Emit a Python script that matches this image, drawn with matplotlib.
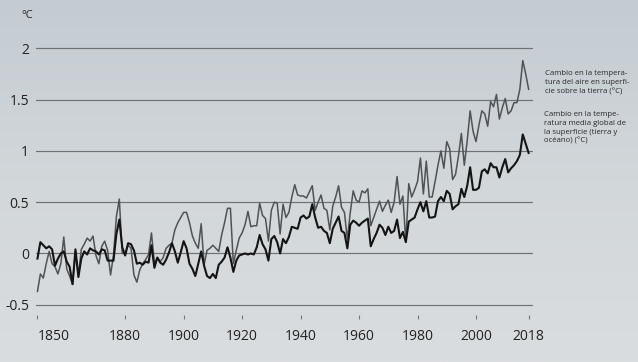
import numpy as np
import matplotlib.pyplot as plt
from matplotlib.colors import LinearSegmentedColormap

# Años y series anuales (°C)
years = np.arange(1850, 2019)

land = [
    -0.37, -0.2, -0.24, -0.1, 0.02, -0.1, -0.13, -0.2, -0.1, 0.16,
    -0.15, -0.22, -0.3, 0.02, -0.22, 0.04, 0.09, 0.15, 0.12, 0.17,
    -0.02, -0.1, 0.07, 0.12, 0.03, -0.21, -0.02, 0.36, 0.53, 0.0,
    0.0, 0.08, 0.05, -0.21, -0.28, -0.16, -0.1, -0.06, -0.01, 0.2,
    -0.1, -0.04, -0.08, -0.04, 0.05, 0.08, 0.1, 0.23, 0.3, 0.35,
    0.4, 0.4, 0.3, 0.17, 0.1, 0.05, 0.29, -0.11, 0.03, 0.05,
    0.08, 0.05, 0.02, 0.18, 0.3, 0.44, 0.44, -0.1, 0.03, 0.15,
    0.2, 0.28, 0.41, 0.26, 0.27, 0.27, 0.49, 0.37, 0.34, 0.12,
    0.42, 0.5, 0.49, 0.19, 0.48, 0.35, 0.4, 0.55, 0.67, 0.57,
    0.56, 0.56, 0.54, 0.6, 0.66, 0.42, 0.5, 0.57, 0.44, 0.42,
    0.23, 0.46, 0.55, 0.66, 0.45, 0.4, 0.14, 0.4, 0.61, 0.52,
    0.5, 0.61, 0.59, 0.63, 0.27, 0.35, 0.43, 0.51, 0.41, 0.47,
    0.52, 0.4, 0.5, 0.75, 0.48, 0.56, 0.11, 0.68, 0.55, 0.62,
    0.7, 0.93, 0.58, 0.9, 0.55, 0.55, 0.7, 0.86, 1.0, 0.83,
    1.09, 1.02, 0.72, 0.77, 0.95, 1.17, 0.86, 1.1, 1.39, 1.19,
    1.09, 1.25, 1.39, 1.36, 1.24, 1.48, 1.43, 1.55, 1.31, 1.42,
    1.51, 1.36, 1.39, 1.47, 1.47, 1.6, 1.88, 1.75, 1.6,
]

global_mean = [
    -0.05, 0.11, 0.08, 0.05, 0.07, 0.04, -0.12, -0.05, 0.0, 0.02,
    -0.08, -0.13, -0.3, 0.04, -0.23, -0.05, 0.02, -0.01, 0.05, 0.03,
    0.02, -0.01, 0.04, 0.03, -0.07, -0.07, -0.07, 0.19, 0.33, 0.06,
    -0.02, 0.1, 0.09, 0.03, -0.1, -0.09, -0.11, -0.08, -0.09, 0.08,
    -0.14, -0.04, -0.09, -0.11, -0.06, 0.01, 0.1, 0.02, -0.09, 0.01,
    0.12, 0.05, -0.1, -0.15, -0.22, -0.1, 0.02, -0.12, -0.22, -0.24,
    -0.2, -0.24, -0.11, -0.08, -0.04, 0.06, -0.04, -0.18, -0.07, -0.02,
    -0.01, 0.0, -0.01, 0.0, -0.01, 0.06, 0.18, 0.09, 0.04, -0.07,
    0.14, 0.17, 0.11, 0.0, 0.14, 0.1, 0.16, 0.26, 0.25, 0.24,
    0.35, 0.37, 0.34, 0.36, 0.48, 0.35, 0.25, 0.26, 0.22, 0.2,
    0.1, 0.24, 0.3, 0.36, 0.22, 0.2, 0.05, 0.28, 0.32, 0.3,
    0.27, 0.3, 0.32, 0.34, 0.07, 0.14, 0.2, 0.28, 0.25, 0.18,
    0.26, 0.2, 0.22, 0.33, 0.15, 0.21, 0.11, 0.31, 0.33, 0.35,
    0.43, 0.5, 0.41, 0.51, 0.35, 0.35, 0.36, 0.51, 0.55, 0.51,
    0.61, 0.58, 0.43, 0.46, 0.48, 0.63, 0.55, 0.66, 0.84, 0.62,
    0.62, 0.64, 0.8, 0.82, 0.78, 0.88, 0.84, 0.84, 0.74, 0.84,
    0.92, 0.79, 0.83, 0.86, 0.9, 0.96, 1.16, 1.07, 0.98,
]

y_ticks = [-0.5, 0, 0.5, 1, 1.5, 2]
y_labels = ['-0.5', '0', '0.5', '1', '1.5', '2']
x_ticks = [1850, 1880, 1900, 1920, 1940, 1960, 1980, 2000, 2018]

land_label = 'Cambio en la tempera-\ntura del aire en superfi-\ncie sobre la tierra (°C)'
global_label = 'Cambio en la tempe-\nratura media global de\nla superficie (tierra y\nocéano) (°C)'

plt.rcParams['font.family'] = ['Open Sans', 'DejaVu Sans']

fig = plt.figure(figsize=(6.38, 3.62), dpi=100)

# fondo con degradado (papel fotografiado)
bg = fig.add_axes([0, 0, 1, 1])
cmap = LinearSegmentedColormap.from_list('papel', ['#c4ccd2', '#d2d7da', '#dadddf'])
bg.imshow(np.linspace(0, 1, 256).reshape(-1, 1), cmap=cmap, aspect='auto',
          extent=[0, 1, 0, 1])
bg.axis('off')

ax = fig.add_axes([36 / 638, 47 / 362, 497 / 638, 277 / 362])
ax.patch.set_alpha(0)

for v in y_ticks:
    ax.axhline(v, color='#6e7276', lw=0.85, zorder=1)

ax.plot(years, land, color='#505356', lw=1.1, zorder=2)
ax.plot(years, global_mean, color='#141414', lw=1.5, zorder=3)

ax.set_xlim(1849.5, 2019.5)
ax.set_ylim(-0.6, 2.1)

for s in ax.spines.values():
    s.set_visible(False)

ax.set_yticks(y_ticks, y_labels)
ax.set_xticks(x_ticks, [str(x) for x in x_ticks])
ax.tick_params(axis='y', length=0, pad=5, labelsize=10, labelcolor='#222222')
ax.tick_params(axis='x', length=3, width=0.8, color='#777777', pad=7,
               labelsize=10, labelcolor='#222222')
ax.xaxis.get_major_ticks()[0].label1.set_horizontalalignment('left')

fig.text(27 / 638, 1 - 16 / 362, '°C', ha='center', va='center',
         fontsize=8, color='#222222')

fig.text(545 / 638, 1 - 70 / 362, land_label, ha='left', va='top',
         fontsize=5.6, color='#2a2a2a', linespacing=1.38)
fig.text(544 / 638, 1 - 111 / 362, global_label, ha='left', va='top',
         fontsize=5.6, color='#2a2a2a', linespacing=1.38)

fig.savefig('out.png', dpi=100)
